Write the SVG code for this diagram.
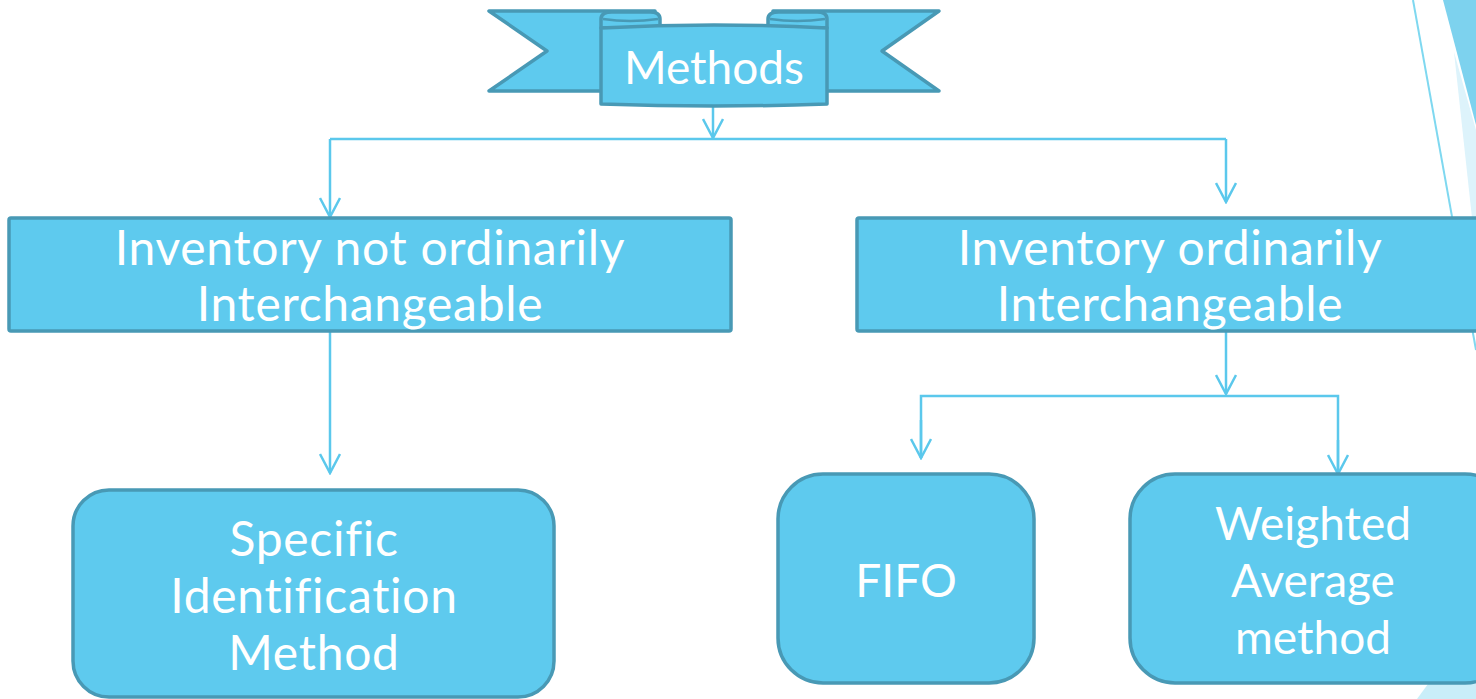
<svg xmlns="http://www.w3.org/2000/svg" width="1476" height="699" viewBox="0 0 1476 699">
<defs>
<style>
.box{fill:#5ECAEE;stroke:#4899B5;stroke-width:3.5}
.ban{fill:#5ECAEE;stroke:#4899B5;stroke-width:3.5;stroke-linejoin:round}
.lbl{font-family:Lato,"Open Sans",sans-serif;font-size:46px;fill:#FFFFFF;text-anchor:middle;font-variant-ligatures:none}
.wide{font-size:48px;letter-spacing:0.7px}
.con{fill:none;stroke:#5BC8EC;stroke-width:2.5}
</style>
<marker id="arr" viewBox="0 0 22 22" refX="11" refY="20" markerWidth="22" markerHeight="22" markerUnits="userSpaceOnUse" orient="0">
<path d="M1,1 L11,20 L21,1" fill="none" stroke="#5BC8EC" stroke-width="2.5"/>
</marker>
</defs>
<rect width="1476" height="699" fill="#FFFFFF"/>
<g id="decor">
<line x1="1413" y1="0" x2="1476" y2="350" stroke="#7FD8F0" stroke-width="2"/>
<polygon points="1443,0 1476,0 1476,125" fill="#7DD2EE"/>
<polygon points="1454,52 1476,130 1476,218 1472,218" fill="#DDF3FB"/>
<polygon points="1417,699 1476,699 1476,684 1428,684" fill="#C9EEF9"/>
</g>
<g id="connectors">
<line class="con" x1="713" y1="106" x2="713" y2="138" marker-end="url(#arr)"/>
<line class="con" x1="330" y1="139" x2="1226" y2="139"/>
<line class="con" x1="330" y1="139" x2="330" y2="217" marker-end="url(#arr)"/>
<line class="con" x1="1226" y1="139" x2="1226" y2="202" marker-end="url(#arr)"/>
<line class="con" x1="330" y1="331" x2="330" y2="473" marker-end="url(#arr)"/>
<line class="con" x1="1226" y1="331" x2="1226" y2="394" marker-end="url(#arr)"/>
<polyline class="con" points="921,458 921,396 1338,396 1338,474"/>
<line class="con" x1="921" y1="420" x2="921" y2="458" marker-end="url(#arr)"/>
<line class="con" x1="1338" y1="440" x2="1338" y2="474" marker-end="url(#arr)"/>
</g>
<g id="methods">
<polygon class="ban" points="489,11 655,11 655,91 489,91 547,51"/>
<polygon class="ban" points="939,11 773,11 773,91 939,91 882,51"/>
<path class="ban" d="M601,28 V19 Q601,12 612,12 H650 Q660,12 660,19 V28 Z"/>
<path d="M603,19 Q630,23 658,19" fill="none" stroke="#4899B5" stroke-width="2.5"/>
<path class="ban" d="M768,28 V19 Q768,12 779,12 H817 Q827,12 827,19 V28 Z"/>
<path d="M770,19 Q797,23 825,19" fill="none" stroke="#4899B5" stroke-width="2.5"/>
<path class="ban" d="M601,28 Q714,22 827,28 V104 Q714,108 601,104 Z"/>
<text class="lbl" x="714" y="84">Methods</text>
</g>
<g id="not-interchangeable">
<rect class="box" x="9" y="218" width="722" height="113" rx="2"/>
<text class="lbl wide" x="370" y="265">Inventory not ordinarily</text>
<text class="lbl wide" x="370" y="321">Interchangeable</text>
</g>
<g id="interchangeable">
<rect class="box" x="857" y="218" width="640" height="113" rx="2"/>
<text class="lbl wide" x="1170" y="265">Inventory ordinarily</text>
<text class="lbl wide" x="1170" y="321">Interchangeable</text>
</g>
<g id="specific">
<rect class="box" x="73" y="490" width="481" height="207" rx="36"/>
<text class="lbl wide" x="314" y="556">Specific</text>
<text class="lbl wide" x="314" y="613">Identification</text>
<text class="lbl wide" x="314" y="670">Method</text>
</g>
<g id="fifo">
<rect class="box" x="778" y="474" width="256" height="209" rx="45"/>
<text class="lbl" x="906" y="597">FIFO</text>
</g>
<g id="weighted">
<rect class="box" x="1130" y="474" width="380" height="209" rx="45"/>
<text class="lbl" x="1313" y="540">Weighted</text>
<text class="lbl" x="1313" y="597">Average</text>
<text class="lbl" x="1313" y="654">method</text>
</g>
</svg>
